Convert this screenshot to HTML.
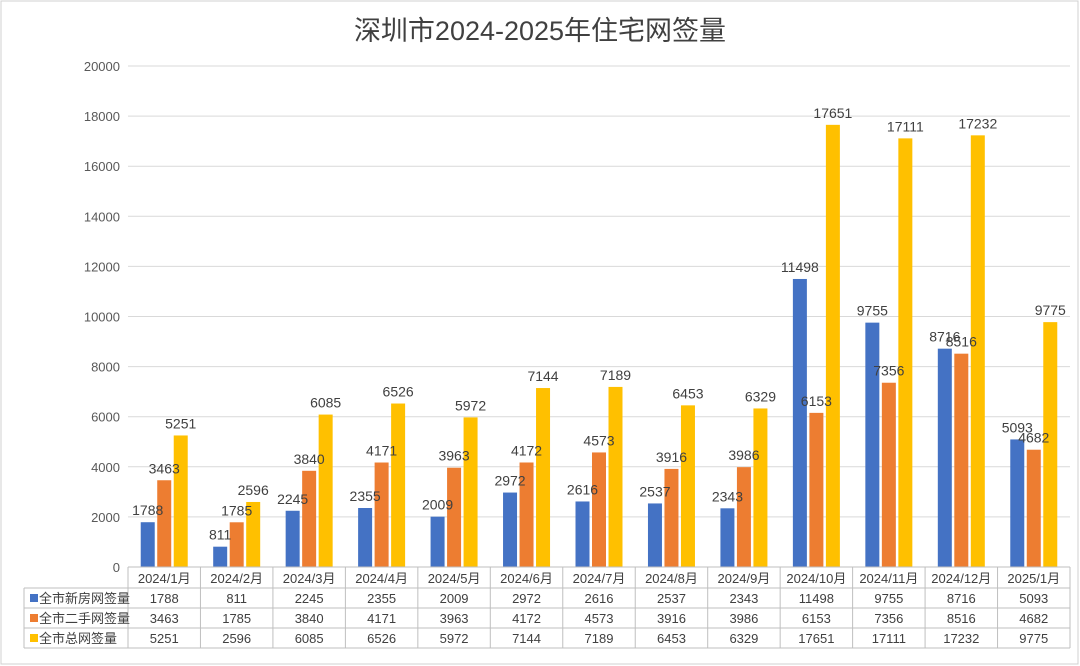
<!DOCTYPE html>
<html><head><meta charset="utf-8"><style>
body{margin:0;background:#fff;}
svg{display:block;font-family:"Liberation Sans","Noto Sans CJK SC",sans-serif;}
</style></head><body>
<svg id="c" width="1080" height="666">
<rect x="1" y="1" width="1077" height="663" fill="#fff" stroke="#d0d0d0"/>
<text x="540" y="40" text-anchor="middle" font-size="27" fill="#404040">深圳市2024-2025年住宅网签量</text>
<g id="grid"></g><g id="bars"></g><g id="labels"></g><g id="table"></g>
</svg>
<script>
const categories=["2024/1月","2024/2月","2024/3月","2024/4月","2024/5月","2024/6月","2024/7月","2024/8月","2024/9月","2024/10月","2024/11月","2024/12月","2025/1月"];
const seriesNames=["全市新房网签量","全市二手网签量","全市总网签量"];
const newHome=[1788,811,2245,2355,2009,2972,2616,2537,2343,11498,9755,8716,5093];
const secondHand=[3463,1785,3840,4171,3963,4172,4573,3916,3986,6153,7356,8516,4682];
const total=[5251,2596,6085,6526,5972,7144,7189,6453,6329,17651,17111,17232,9775];
const yTicks=[0,2000,4000,6000,8000,10000,12000,14000,16000,18000,20000];
const colors=["#4472C4","#ED7D31","#FFC000"];
const NS="http://www.w3.org/2000/svg";
const X0=128,X1=1070,Y0=567,Y1=66,YMAX=20000;
const cw=(X1-X0)/categories.length;
const y=v=>Y0-(v/YMAX)*(Y0-Y1);
const xc=i=>X0+cw*i;
function mk(tag,attrs,parent,txt){const e=document.createElementNS(NS,tag);for(const k in attrs)e.setAttribute(k,attrs[k]);if(txt!==undefined)e.textContent=txt;parent.appendChild(e);return e;}
const grid=document.getElementById('grid'),bars=document.getElementById('bars'),labels=document.getElementById('labels'),table=document.getElementById('table');
yTicks.forEach(t=>{
  const l=mk('line',{x1:X0,x2:X1,y1:y(t),y2:y(t),stroke:'#d9d9d9'},grid);
  
  
  const tx=mk('text',{x:120,y:y(t)+5,'text-anchor':'end','font-size':13,fill:'#595959'},grid,String(t));
  
  
});
const series=[newHome,secondHand,total];
const bw=14,gap=2.5;
categories.forEach((c,i)=>{
  const cx=xc(i)+cw/2;
  series.forEach((s,k)=>{
    const bx=cx+(k-1)*(bw+gap)-bw/2;
    const r=mk('rect',{x:bx,y:y(s[i]),width:bw,height:Y0-y(s[i]),fill:colors[k]},bars);
    
    
    const t=mk('text',{x:bx+bw/2,y:y(s[i])-7,'text-anchor':'middle','font-size':14,fill:'#404040'},labels,String(s[i]));
    
    
  });
});
const rowY=[567,588,608,628,648];
const tc='#bfbfbf';
mk('line',{x1:X0,x2:X1,y1:567,y2:567,stroke:tc},table);
for(let r=1;r<5;r++)mk('line',{x1:24,x2:X1,y1:rowY[r],y2:rowY[r],stroke:tc},table);
mk('line',{x1:24,x2:24,y1:588,y2:648,stroke:tc},table);
for(let i=0;i<=categories.length;i++)mk('line',{x1:xc(i),x2:xc(i),y1:567,y2:648,stroke:tc},table);
categories.forEach((c,i)=>{
  const t=mk('text',{x:xc(i)+cw/2,y:583,'text-anchor':'middle','font-size':13,fill:'#404040'},table,c);
  
  
  series.forEach((s,k)=>{
    const v=mk('text',{x:xc(i)+cw/2,y:rowY[k+1]+15,'text-anchor':'middle','font-size':13,fill:'#404040'},table,String(s[i]));
    
    
  });
});
seriesNames.forEach((n,k)=>{
  const sw=mk('rect',{x:30,y:rowY[k+1]+6,width:8,height:8,fill:colors[k]},table);
  
  
  const t=mk('text',{x:39,y:rowY[k+1]+15,'font-size':13,fill:'#404040'},table,n);
  
  
});
</script>
</body></html>
